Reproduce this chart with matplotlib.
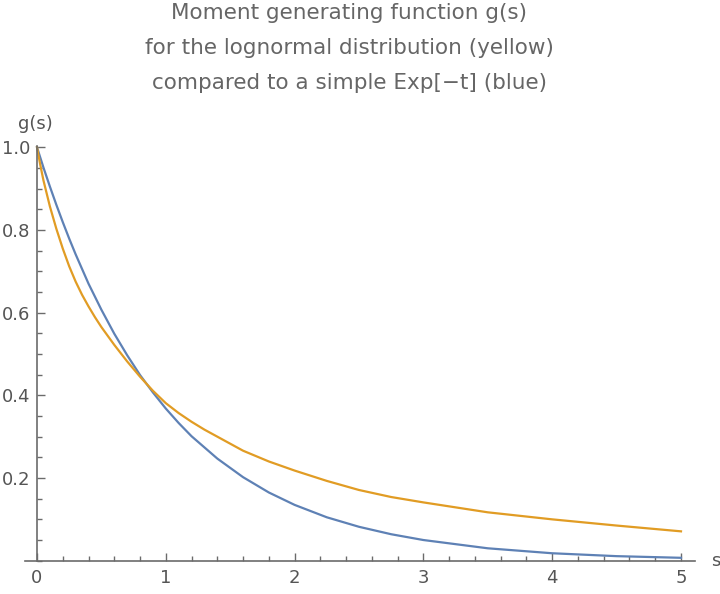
import numpy as np
import matplotlib
matplotlib.use("Agg")
import matplotlib.pyplot as plt
from matplotlib.ticker import MultipleLocator

# values
s_blue = [0, 0.05, 0.1, 0.15, 0.2, 0.25, 0.3, 0.4, 0.5, 0.6, 0.7, 0.8, 0.9, 1.0, 1.1,
          1.2, 1.4, 1.6, 1.8, 2.0, 2.25, 2.5, 2.75, 3.0, 3.5, 4.0, 4.5, 5.0]
g_blue = [1.0, 0.951, 0.905, 0.861, 0.819, 0.779, 0.741, 0.670, 0.607, 0.549, 0.497,
          0.449, 0.407, 0.368, 0.333, 0.301, 0.247, 0.202, 0.165, 0.135, 0.105,
          0.082, 0.064, 0.050, 0.030, 0.018, 0.011, 0.007]

s_yellow = [0, 0.025, 0.05, 0.1, 0.15, 0.2, 0.25, 0.3, 0.35, 0.4, 0.45, 0.5, 0.6, 0.7,
            0.8, 0.9, 1.0, 1.1, 1.2, 1.3, 1.4, 1.6, 1.8, 2.0, 2.25, 2.5, 2.75, 3.0,
            3.5, 4.0, 4.5, 5.0]
g_yellow = [1.0, 0.958, 0.92, 0.857, 0.803, 0.755, 0.712, 0.675, 0.643, 0.615, 0.589,
            0.565, 0.522, 0.482, 0.445, 0.411, 0.381, 0.357, 0.336, 0.317, 0.300,
            0.266, 0.240, 0.218, 0.193, 0.171, 0.154, 0.141, 0.117, 0.100, 0.085,
            0.071]

x_ticks = [0, 1, 2, 3, 4, 5]
y_ticks = [0.2, 0.4, 0.6, 0.8, 1.0]

title_lines = ["Moment generating function g(s)",
               "for the lognormal distribution (yellow)",
               "compared to a simple Exp[\u2212t] (blue)"]

plt.rcParams['font.family'] = ['DejaVu Sans']

W, H = 720, 594
fig = plt.figure(figsize=(W / 100, H / 100), dpi=100)
ax = fig.add_axes([25 / W, (H - 560.7) / H, 670 / W, (560.7 - 146) / H])

ax.plot(s_blue, g_blue, color="#5E81B5", lw=1.6)
ax.plot(s_yellow, g_yellow, color="#E19C24", lw=1.6)

ax.set_xlim(-12 / 128.8, 5 + 14 / 128.8)
ax.set_ylim(0, 1.003)

axis_col = "#6b6b6b"
for side in ["top", "right"]:
    ax.spines[side].set_visible(False)
ax.spines["left"].set_position(("data", 0))
for side in ["left", "bottom"]:
    ax.spines[side].set_color(axis_col)
    ax.spines[side].set_linewidth(1.2)

ax.set_xticks(x_ticks)
ax.set_yticks(y_ticks)
ax.set_yticklabels(["%.1f" % v for v in y_ticks])
ax.xaxis.set_minor_locator(MultipleLocator(0.2))
ax.yaxis.set_minor_locator(MultipleLocator(0.05))
ax.tick_params(which="both", direction="in", color=axis_col, width=1.0,
               labelsize=13, labelcolor="#555555")
ax.tick_params(which="major", length=6)
ax.tick_params(which="minor", length=3.5)
ax.tick_params(axis="x", pad=6)
ax.tick_params(axis="y", pad=5)

fig.text(35 / W, 1 - 124 / H, "g(s)", ha="center", va="center",
         fontsize=13, color="#555555")
fig.text(711 / W, 1 - 561 / H, "s", ha="left", va="center",
         fontsize=13, color="#555555")

for i, line in enumerate(title_lines):
    fig.text(349 / W, 1 - (13 + 35 * i) / H, line, ha="center", va="center",
             fontsize=15.5, color="#666666")

fig.savefig("out.png", dpi=100)
